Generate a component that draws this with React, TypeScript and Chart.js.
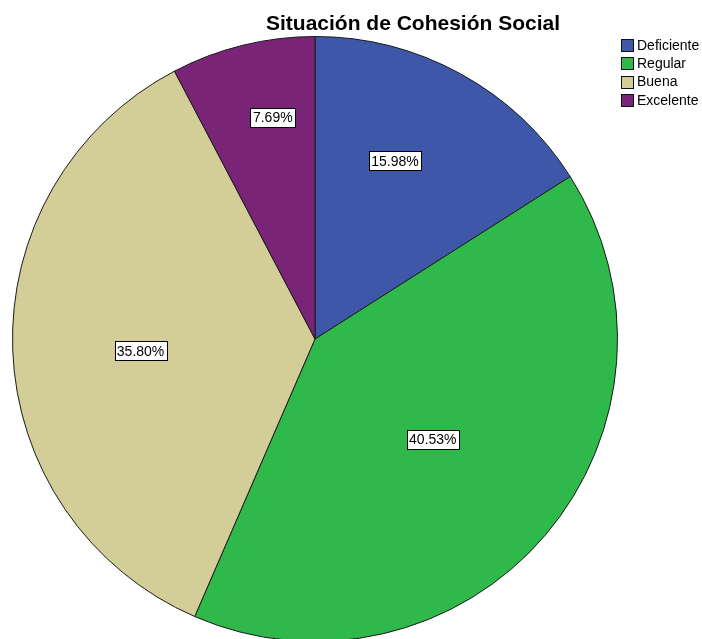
import React, { useEffect, useRef } from "react";
import { Chart, registerables } from "chart.js";

Chart.register(...registerables);

const categories = ["Deficiente", "Regular", "Buena", "Excelente"];
const percentages = [15.98, 40.53, 35.8, 7.69];
const colors = ["#3f57a8", "#2fb94b", "#d3cd98", "#7a2477"];
const titleText = "Situación de Cohesión Social";

// label placement inside each slice: fraction along slice angle, fraction of radius
const labelAngleFrac = [0.42, 0.5, 0.486, 0.61];
const labelRadiusFrac = [0.646, 0.512, 0.578, 0.745];

const FONT = '"Liberation Sans", Arial, sans-serif';

const overlayPlugin = {
  id: "overlay",
  afterDatasetsDraw(chart: any) {
    const ctx = chart.ctx;
    const meta = chart.getDatasetMeta(0);
    ctx.save();
    // slice labels
    ctx.font = `14px ${FONT}`;
    ctx.textAlign = "center";
    ctx.textBaseline = "middle";
    meta.data.forEach((arc: any, i: number) => {
      const p = arc.getProps(["x", "y", "startAngle", "endAngle", "outerRadius"], true);
      const a = p.startAngle + labelAngleFrac[i] * (p.endAngle - p.startAngle);
      const r = p.outerRadius * labelRadiusFrac[i];
      const cx = p.x + Math.cos(a) * r;
      const cy = p.y + Math.sin(a) * r;
      const txt = percentages[i].toFixed(2) + "%";
      const w = Math.round(ctx.measureText(txt).width + 5);
      const h = 19;
      const bx = Math.round(cx - w / 2) + 0.5;
      const by = Math.round(cy - h / 2) + 0.5;
      ctx.fillStyle = "#ffffff";
      ctx.fillRect(bx, by, w, h);
      ctx.strokeStyle = "#000000";
      ctx.lineWidth = 1;
      ctx.strokeRect(bx, by, w, h);
      ctx.fillStyle = "#000000";
      ctx.fillText(txt, cx, cy + 1);
    });
    // title
    ctx.font = `bold 21px ${FONT}`;
    ctx.textAlign = "center";
    ctx.textBaseline = "alphabetic";
    ctx.fillStyle = "#000000";
    ctx.fillText(titleText, 413, 30);
    // legend
    ctx.font = `14px ${FONT}`;
    ctx.textAlign = "left";
    ctx.textBaseline = "middle";
    categories.forEach((c, i) => {
      const y = 45 + i * 18.3;
      const top = Math.round(y - 6) + 0.5;
      ctx.fillStyle = colors[i];
      ctx.fillRect(621.5, top, 12, 12);
      ctx.strokeStyle = "#111111";
      ctx.lineWidth = 1;
      ctx.strokeRect(621.5, top, 12, 12);
      ctx.fillStyle = "#000000";
      ctx.fillText(c, 637, y + 1);
    });
    ctx.restore();
  },
};

export default function App() {
  const ref = useRef<HTMLCanvasElement>(null);
  useEffect(() => {
    document.body.style.margin = "0";
    const chart = new Chart(ref.current as HTMLCanvasElement, {
      type: "pie",
      data: {
        labels: categories,
        datasets: [
          {
            data: percentages,
            backgroundColor: colors,
            borderColor: "#1a1a1a",
            borderWidth: 1,
          },
        ],
      },
      options: {
        responsive: false,
        animation: false,
        layout: { padding: { left: 12, right: 84, top: 36, bottom: 18 } },
        plugins: {
          legend: { display: false },
          title: { display: false },
          tooltip: { enabled: false },
        },
      },
      plugins: [overlayPlugin],
    });
    return () => chart.destroy();
  }, []);
  return (
    <div style={{ position: "absolute", left: 0, top: 0, width: 702, height: 639, overflow: "hidden", background: "#fff" }}>
      <canvas ref={ref} width={702} height={660} style={{ width: 702, height: 660, display: "block" }} />
    </div>
  );
}
